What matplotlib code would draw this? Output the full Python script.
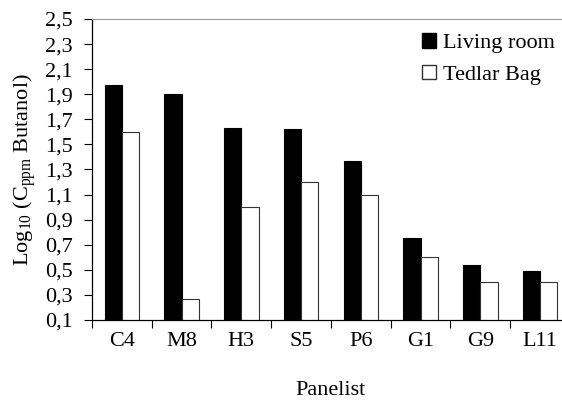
import numpy as np
import matplotlib.pyplot as plt
from matplotlib.patches import Patch
from matplotlib.ticker import FixedLocator, FuncFormatter

# =====================================================================
# DATA
# =====================================================================

panelists = ["C4", "M8", "H3", "S5", "P6", "G1", "G9", "L11"]
living_room = [1.97, 1.90, 1.63, 1.62, 1.37, 0.75, 0.54, 0.49]
tedlar_bag = [1.60, 0.27, 1.00, 1.20, 1.10, 0.60, 0.40, 0.40]
yticks = [0.1, 0.3, 0.5, 0.7, 0.9, 1.1, 1.3, 1.5, 1.7, 1.9, 2.1, 2.3, 2.5]

# =====================================================================
# STYLE
# =====================================================================

plt.rcParams.update({
    "font.family": "serif",
    "font.serif": ["Liberation Serif", "DejaVu Serif"],
    "font.size": 16,
    "mathtext.fontset": "custom",
    "mathtext.rm": "Liberation Serif",
    "mathtext.it": "Liberation Serif:italic",
})

fig = plt.figure(figsize=(5.62, 4.03), dpi=100)
ax = fig.add_axes([0.1637, 0.2060, 0.8505, 0.7469])

x = np.arange(len(panelists))
w = 0.29

ax.bar(x - w / 2, living_room, w, bottom=0, color="black", edgecolor="black",
       linewidth=0.8, label="Living room")
ax.bar(x + w / 2, tedlar_bag, w, bottom=0, color="white", edgecolor="#333333",
       linewidth=0.8, label="Tedlar Bag")

ax.set_xlim(-0.5, len(panelists) - 0.5)
ax.set_ylim(0.1, 2.5)

ax.set_yticks(yticks)
ax.yaxis.set_major_formatter(FuncFormatter(lambda v, p: f"{v:.1f}".replace(".", ",")))

# category boundaries as major ticks, labels on minor ticks at centers
ax.xaxis.set_major_locator(FixedLocator(np.arange(len(panelists) + 1) - 0.5))
ax.xaxis.set_major_formatter(FuncFormatter(lambda v, p: ""))
ax.xaxis.set_minor_locator(FixedLocator(x))
ax.set_xticklabels(panelists, minor=True)
ax.tick_params(axis="x", which="minor", length=0, pad=9)
ax.tick_params(axis="x", which="major", direction="out", length=6, width=0.8)
ax.tick_params(axis="y", direction="out", length=6, width=0.8, pad=8)

ax.spines["top"].set_color("#999999")
ax.spines["right"].set_visible(False)
ax.spines["left"].set_linewidth(0.9)
ax.spines["bottom"].set_linewidth(0.9)

ax.set_xlabel("Panelist", labelpad=21)
ax.set_ylabel(r"Log$_{10}$ (C$_{\mathrm{ppm}}$ Butanol)", labelpad=5)

handles = [
    Patch(facecolor="black", edgecolor="black", label="Living room"),
    Patch(facecolor="white", edgecolor="#333333", label="Tedlar Bag"),
]
fig.legend(handles=handles, loc="upper left", bbox_to_anchor=(0.731, 0.945),
           frameon=False, handlelength=0.65, handleheight=0.65,
           handletextpad=0.3, labelspacing=0.5, borderpad=0, fontsize=16)

fig.savefig("out.png", dpi=100)
